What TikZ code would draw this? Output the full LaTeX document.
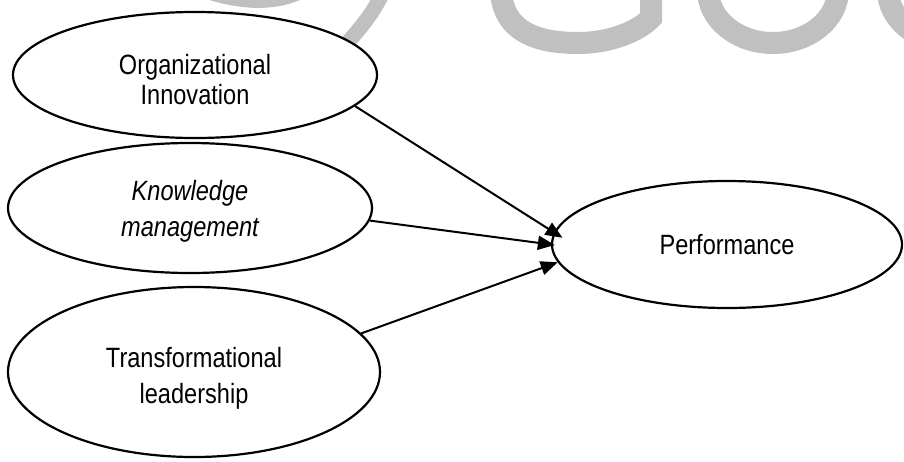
\documentclass[tikz,border=0pt]{standalone}
\usepackage{fontspec}
\setmainfont[FakeStretch=0.845]{Liberation Sans}
\usetikzlibrary{shapes.geometric,arrows.meta}
\definecolor{wmgray}{RGB}{192,192,192}
\newcommand{\lift}[1]{\rule{0pt}{#1}}

\begin{document}
\begin{tikzpicture}[
	x=1pt, y=-1pt,
	font=\fontsize{27.9}{36}\selectfont,
	cons/.style={ellipse,draw,fill=white,line width=2.2pt,inner sep=0pt,align=center},
	eff/.style={line width=2pt,-{Triangle[length=17pt,width=14pt]}},
	wm/.style={draw=wmgray,line width=22pt},
	]
\useasboundingbox (0,0) rectangle (904,461);
\begin{scope}
	\clip (0,0) rectangle (904,461);
	\draw[wm, line width=12pt] (198,-10) .. controls (240,5) and (275,6) .. (303,-8);
	\draw[wm, line width=15pt] (322,70) .. controls (350,40) and (370,20) .. (382,-6);
	\draw[wm] (501,-8) .. controls (504,36) and (545,43) .. (578,43)
		.. controls (612,43) and (640,30) .. (651,18) -- (651,-8);
	\draw[wm] (773,-10) ellipse [x radius=65, y radius=53];
	\draw[wm] (953,-10) ellipse [x radius=65, y radius=53];
\end{scope}
\node[cons, minimum width=364pt, minimum height=126pt] (org) at (195,75)
	{\lift{30pt}Organizational\\[-6pt]Innovation};
\node[cons, minimum width=364pt, minimum height=130pt,
	font=\fontsize{27.9}{36}\selectfont\itshape] (km) at (190,208)
	{\lift{26pt}Knowledge\\management};
\node[cons, minimum width=372pt, minimum height=170pt] (tl) at (194,372)
	{\lift{32pt}Transformational\\leadership};
\node[cons, minimum width=350pt, minimum height=127pt] (perf) at (727,244.5)
	{Performance};
\draw[eff, shorten >=-10pt] (org.-11.7) -- (perf.176);
\draw[eff, shorten >=-4pt] (km.-4.8) -- (perf.180.6);
\draw[eff] (tl.13.7) -- (perf.186.3);
\end{tikzpicture}
\end{document}
